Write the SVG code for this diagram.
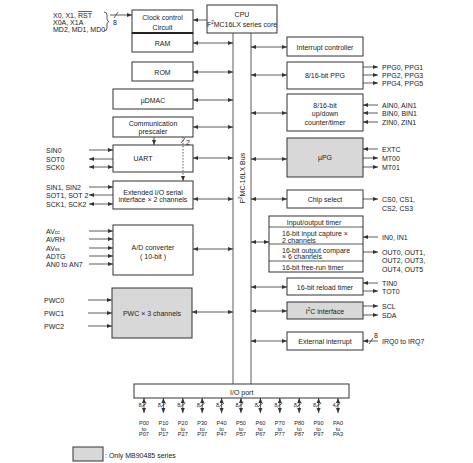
<svg xmlns="http://www.w3.org/2000/svg" width="473" height="463" viewBox="0 0 473 463">
<defs>
<marker id="ah" viewBox="0 0 6 6" refX="6" refY="3" markerWidth="5" markerHeight="5" orient="auto-start-reverse" markerUnits="userSpaceOnUse"><path d="M0,0.6 L6,3 L0,5.4z" fill="#333"/></marker>
<style>
.b{fill:#fff;stroke:#333;stroke-width:1}
.g{fill:#d8d8d8;stroke:#333;stroke-width:1}
.t{font-family:"Liberation Sans",Arial,sans-serif;font-size:7px;fill:#222;dominant-baseline:central}
.c{text-anchor:middle}
.s{font-size:5.6px}
.l{stroke:#333;stroke-width:0.8;fill:none}
.bi{marker-start:url(#ah);marker-end:url(#ah)}
.e{marker-end:url(#ah)}
.d{stroke-dasharray:1.5,1.5}
</style>
</defs>
<rect width="473" height="463" fill="#fff"/>

<g id="cpu"><rect class="b" x="207" y="5" width="70" height="28"/>
<text class="t c" x="242" y="14">CPU</text>
<text class="t c" x="242" y="24" font-size="6.5">F<tspan font-size="4.5" dy="-2.5">2</tspan><tspan dy="2.5">MC16LX series core</tspan></text></g>

<g id="bus"><line class="l" x1="233" y1="33" x2="233" y2="384"/><line class="l" x1="251" y1="33" x2="251" y2="384"/>
<text class="t c" transform="translate(242,178) rotate(-90)">F<tspan font-size="4.5" dy="-2.5">2</tspan><tspan dy="2.5">MC-16LX Bus</tspan></text></g>

<g id="clock"><rect class="b" x="132" y="10" width="61" height="23"/>
<text class="t c" x="162.5" y="17">Clock control</text><text class="t c" x="162.5" y="27">Circuit</text></g>
<g id="ram"><rect class="b" x="132" y="33" width="61" height="19"/><line x1="132" y1="33" x2="193" y2="33" stroke="#222" stroke-width="2"/>
<text class="t c" x="162.5" y="43">RAM</text></g>
<g id="rom"><rect class="b" x="132" y="62" width="61" height="19"/><text class="t c" x="162.5" y="72">ROM</text></g>
<g id="udmac"><rect class="b" x="113" y="89" width="80" height="20"/><text class="t c" x="153" y="100">µDMAC</text></g>
<g id="prescaler"><rect class="b" x="113" y="117" width="80" height="20"/>
<text class="t c" x="153" y="123">Communication</text><text class="t c" x="153" y="131">prescaler</text></g>
<g id="uart"><rect class="b" x="113" y="145" width="80" height="27"/><text class="t c" x="143" y="158">UART</text></g>
<g id="extio"><rect class="b" x="113" y="181" width="80" height="28"/>
<text class="t c" x="153" y="192">Extended I/O  serial</text><text class="t c" x="153" y="199">interface × 2 channels</text></g>
<g id="adc"><rect class="b" x="113" y="225" width="80" height="50"/>
<text class="t c" x="153" y="247">A/D converter</text><text class="t c" x="153" y="256">( 10-bit )</text></g>
<g id="pwc"><rect class="g" x="112" y="288" width="80" height="50"/><text class="t c" x="152" y="313">PWC × 3 channels</text></g>

<g id="intc"><rect class="b" x="287" y="37" width="76" height="19"/><text class="t c" x="325" y="47">Interrupt controller</text></g>
<g id="ppg"><rect class="b" x="287" y="62" width="76" height="27"/><text class="t c" x="325" y="75">8/16-bit PPG</text></g>
<g id="updown"><rect class="b" x="287" y="94" width="76" height="37"/>
<text class="t c" x="325" y="105">8/16-bit</text><text class="t c" x="325" y="113">up/down</text><text class="t c" x="325" y="122">counter/timer</text></g>
<g id="upg"><rect class="g" x="287" y="138" width="76" height="39"/><text class="t c" x="325" y="157">µPG</text></g>
<g id="chipsel"><rect class="b" x="287" y="190" width="76" height="18"/><text class="t c" x="325" y="199">Chip select</text></g>
<g id="iotimer"><rect class="b" x="269" y="216" width="94" height="56"/>
<line class="l" x1="269" y1="227" x2="363" y2="227"/><line class="l" x1="269" y1="244" x2="363" y2="244"/><line class="l" x1="269" y1="261" x2="363" y2="261"/>
<text class="t c" x="314" y="222">Input/output timer</text>
<text class="t" x="282" y="233">16-bit input capture ×</text><text class="t" x="282" y="240">2 channels</text>
<text class="t" x="282" y="250">16-bit output compare</text><text class="t" x="282" y="256">× 6 channels</text>
<text class="t" x="282" y="267">16-bit free-run timer</text></g>
<g id="reload"><rect class="b" x="287" y="278" width="76" height="17"/><text class="t c" x="325" y="287">16-bit reload timer</text></g>
<g id="i2c"><rect class="g" x="287" y="302" width="76" height="17"/><text class="t c" x="325" y="311">I<tspan font-size="4.5" dy="-2.5">2</tspan><tspan dy="2.5">C interface</tspan></text></g>
<g id="extint"><rect class="b" x="287" y="332" width="76" height="18"/><text class="t c" x="325" y="341">External interrupt</text></g>

<g id="ioport"><rect class="b" x="134" y="384" width="215" height="14"/><text class="t" x="230" y="392">I/O port</text></g>

<g id="legend"><rect class="g" x="73" y="447" width="30" height="14"/><text class="t" x="105" y="455" font-size="7.5">: Only MB90485 series</text></g>

<g id="labels">
<text class="t" x="53" y="15">X0, X1, <tspan style="text-decoration:overline">RST</tspan></text>
<text class="t" x="53" y="22">X0A, X1A</text>
<text class="t" x="53" y="29">MD2, MD1, MD0</text>
<text class="t" x="113" y="22" font-size="6">8</text>
<text class="t" x="186" y="142" font-size="6">2</text>
<text class="t" x="46" y="150">SIN0</text><text class="t" x="46" y="159">SOT0</text><text class="t" x="46" y="167">SCK0</text>
<text class="t" x="46" y="187">SIN1, SIN2</text><text class="t" x="46" y="195">SOT1, SOT 2</text><text class="t" x="46" y="204">SCK1, SCK2</text>
<text class="t" x="46" y="231">AV<tspan font-size="5" dy="1">cc</tspan></text>
<text class="t" x="46" y="239">AVRH</text>
<text class="t" x="46" y="248">AV<tspan font-size="5" dy="1">ss</tspan></text>
<text class="t" x="46" y="256">ADTG</text>
<text class="t" x="46" y="264">AN0 to AN7</text>
<text class="t" x="44" y="300">PWC0</text><text class="t" x="44" y="313">PWC1</text><text class="t" x="44" y="326">PWC2</text>
<text class="t" x="382" y="67">PPG0, PPG1</text><text class="t" x="382" y="75">PPG2, PPG3</text><text class="t" x="382" y="83">PPG4, PPG5</text>
<text class="t" x="382" y="105">AIN0, AIN1</text><text class="t" x="382" y="113">BIN0, BIN1</text><text class="t" x="382" y="122">ZIN0, ZIN1</text>
<text class="t" x="382" y="149">EXTC</text><text class="t" x="382" y="158">MT00</text><text class="t" x="382" y="167">MT01</text>
<text class="t" x="382" y="199">CS0, CS1,</text><text class="t" x="382" y="208">CS2, CS3</text>
<text class="t" x="382" y="237">IN0, IN1</text>
<text class="t" x="382" y="252">OUT0, OUT1,</text><text class="t" x="382" y="260">OUT2, OUT3,</text><text class="t" x="382" y="269">OUT4, OUT5</text>
<text class="t" x="382" y="283">TIN0</text><text class="t" x="382" y="291">TOT0</text>
<text class="t" x="382" y="306">SCL</text><text class="t" x="382" y="315">SDA</text>
<text class="t" x="374" y="335" font-size="6">8</text>
<text class="t" x="382" y="341">IRQ0 to IRQ7</text>
</g>

<g id="ports" class="t c s">
<text x="144" y="423">P00</text><text x="144" y="428.5">to</text><text x="144" y="434">P07</text>
<text x="163.4" y="423">P10</text><text x="163.4" y="428.5">to</text><text x="163.4" y="434">P17</text>
<text x="182.8" y="423">P20</text><text x="182.8" y="428.5">to</text><text x="182.8" y="434">P27</text>
<text x="202.2" y="423">P30</text><text x="202.2" y="428.5">to</text><text x="202.2" y="434">P37</text>
<text x="221.6" y="423">P40</text><text x="221.6" y="428.5">to</text><text x="221.6" y="434">P47</text>
<text x="241" y="423">P50</text><text x="241" y="428.5">to</text><text x="241" y="434">P57</text>
<text x="260.4" y="423">P60</text><text x="260.4" y="428.5">to</text><text x="260.4" y="434">P67</text>
<text x="279.8" y="423">P70</text><text x="279.8" y="428.5">to</text><text x="279.8" y="434">P77</text>
<text x="299.2" y="423">P80</text><text x="299.2" y="428.5">to</text><text x="299.2" y="434">P87</text>
<text x="318.6" y="423">P90</text><text x="318.6" y="428.5">to</text><text x="318.6" y="434">P97</text>
<text x="338" y="423">PA0</text><text x="338" y="428.5">to</text><text x="338" y="434">PA3</text>
<text x="140" y="405">8</text><text x="159.4" y="405">8</text><text x="178.8" y="405">8</text><text x="198.2" y="405">8</text><text x="217.6" y="405">8</text><text x="237" y="405">8</text><text x="256.4" y="405">8</text><text x="275.8" y="405">8</text><text x="295.2" y="405">8</text><text x="314.6" y="405">8</text><text x="334" y="405">4</text>
</g>

<g id="connectors">
<path class="l" d="M104,12 q3,0 3,3 v4 q0,2 2,2.5 q-2,0.5 -2,2.5 v4 q0,3 -3,3"/>
<line class="l e" x1="110" y1="15" x2="132" y2="15"/>
<line class="l" x1="114" y1="18" x2="118" y2="12"/>
<line class="l e" x1="207" y1="20" x2="193" y2="20"/>
<line class="l bi" x1="193" y1="43" x2="233" y2="43"/>
<line class="l bi" x1="193" y1="72" x2="233" y2="72"/>
<line class="l bi" x1="193" y1="100" x2="233" y2="100"/>
<line class="l bi" x1="193" y1="127" x2="233" y2="127"/>
<line class="l bi" x1="193" y1="158" x2="233" y2="158"/>
<line class="l bi" x1="193" y1="199" x2="233" y2="199"/>
<line class="l bi" x1="193" y1="249" x2="233" y2="249"/>
<line class="l bi" x1="192" y1="312" x2="233" y2="312"/>
<line class="l e" x1="154" y1="137" x2="154" y2="145"/>
<line class="l d e" x1="183" y1="137" x2="183" y2="181"/>
<line class="l" x1="181" y1="143" x2="185" y2="138"/>
<line class="l e" x1="89" y1="150" x2="113" y2="150"/>
<line class="l e" x1="113" y1="159" x2="89" y2="159"/>
<line class="l bi" x1="89" y1="167" x2="113" y2="167"/>
<line class="l e" x1="89" y1="187" x2="113" y2="187"/>
<line class="l e" x1="113" y1="195" x2="89" y2="195"/>
<line class="l bi" x1="89" y1="204" x2="113" y2="204"/>
<line class="l e" x1="89" y1="231" x2="113" y2="231"/>
<line class="l e" x1="89" y1="239" x2="113" y2="239"/>
<line class="l e" x1="89" y1="248" x2="113" y2="248"/>
<line class="l e" x1="89" y1="256" x2="113" y2="256"/>
<line class="l e" x1="89" y1="264" x2="113" y2="264"/>
<line class="l e" x1="88" y1="300" x2="112" y2="300"/>
<line class="l e" x1="88" y1="313" x2="112" y2="313"/>
<line class="l e" x1="88" y1="326" x2="112" y2="326"/>
<line class="l bi" x1="251" y1="47" x2="287" y2="47"/>
<line class="l bi" x1="251" y1="75" x2="287" y2="75"/>
<line class="l bi" x1="251" y1="113" x2="287" y2="113"/>
<line class="l bi" x1="251" y1="159" x2="287" y2="159"/>
<line class="l bi" x1="251" y1="199" x2="287" y2="199"/>
<line class="l bi" x1="251" y1="242" x2="269" y2="242"/>
<line class="l bi" x1="251" y1="287" x2="287" y2="287"/>
<line class="l bi" x1="251" y1="311" x2="287" y2="311"/>
<line class="l bi" x1="251" y1="341" x2="287" y2="341"/>
<line class="l e" x1="363" y1="67" x2="378" y2="67"/>
<line class="l e" x1="363" y1="75" x2="378" y2="75"/>
<line class="l e" x1="363" y1="83" x2="378" y2="83"/>
<line class="l e" x1="378" y1="105" x2="363" y2="105"/>
<line class="l e" x1="378" y1="113" x2="363" y2="113"/>
<line class="l e" x1="378" y1="122" x2="363" y2="122"/>
<line class="l e" x1="378" y1="149" x2="363" y2="149"/>
<line class="l e" x1="363" y1="158" x2="378" y2="158"/>
<line class="l e" x1="363" y1="167" x2="378" y2="167"/>
<line class="l e" x1="363" y1="199" x2="378" y2="199"/>
<line class="l e" x1="378" y1="237" x2="363" y2="237"/>
<line class="l e" x1="363" y1="252" x2="378" y2="252"/>
<line class="l e" x1="378" y1="283" x2="363" y2="283"/>
<line class="l e" x1="363" y1="291" x2="378" y2="291"/>
<line class="l e" x1="363" y1="306" x2="378" y2="306"/>
<line class="l e" x1="363" y1="315" x2="378" y2="315"/>
<line class="l e" x1="378" y1="341" x2="363" y2="341"/>
<line class="l" x1="369" y1="344" x2="373" y2="338"/>
<g class="l">
<line class="bi" x1="144" y1="398" x2="144" y2="413"/><line x1="141.5" y1="407" x2="146.5" y2="403"/>
<line class="bi" x1="163.4" y1="398" x2="163.4" y2="413"/><line x1="160.9" y1="407" x2="165.9" y2="403"/>
<line class="bi" x1="182.8" y1="398" x2="182.8" y2="413"/><line x1="180.3" y1="407" x2="185.3" y2="403"/>
<line class="bi" x1="202.2" y1="398" x2="202.2" y2="413"/><line x1="199.7" y1="407" x2="204.7" y2="403"/>
<line class="bi" x1="221.6" y1="398" x2="221.6" y2="413"/><line x1="219.1" y1="407" x2="224.1" y2="403"/>
<line class="bi" x1="241" y1="398" x2="241" y2="413"/><line x1="238.5" y1="407" x2="243.5" y2="403"/>
<line class="bi" x1="260.4" y1="398" x2="260.4" y2="413"/><line x1="257.9" y1="407" x2="262.9" y2="403"/>
<line class="bi" x1="279.8" y1="398" x2="279.8" y2="413"/><line x1="277.3" y1="407" x2="282.3" y2="403"/>
<line class="bi" x1="299.2" y1="398" x2="299.2" y2="413"/><line x1="296.7" y1="407" x2="301.7" y2="403"/>
<line class="bi" x1="318.6" y1="398" x2="318.6" y2="413"/><line x1="316.1" y1="407" x2="321.1" y2="403"/>
<line class="bi" x1="338" y1="398" x2="338" y2="413"/><line x1="335.5" y1="407" x2="340.5" y2="403"/>
</g>
</g>
</svg>
